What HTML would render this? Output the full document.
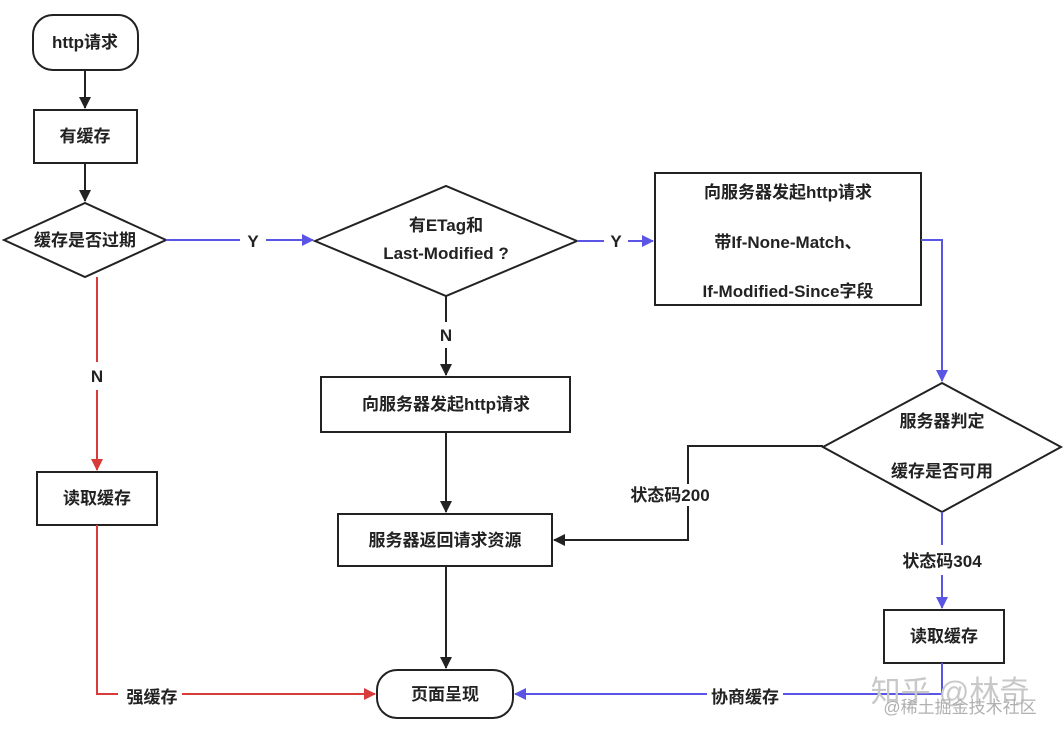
<!DOCTYPE html>
<html><head><meta charset="utf-8"><style>
body{margin:0;background:#fff;width:1064px;height:739px;overflow:hidden}
svg text{font-family:"Liberation Sans","Noto Sans CJK SC",sans-serif;font-weight:bold;font-size:17px;fill:#222}
</style></head><body>
<svg width="1064" height="739" viewBox="0 0 1064 739" xmlns="http://www.w3.org/2000/svg">
<defs>
<marker id="ak" markerWidth="12" markerHeight="12" refX="11" refY="6" orient="auto" markerUnits="userSpaceOnUse"><path d="M0,0 L12,6 L0,12 Z" fill="#222"/></marker>
<marker id="ab" markerWidth="12" markerHeight="12" refX="11" refY="6" orient="auto" markerUnits="userSpaceOnUse"><path d="M0,0 L12,6 L0,12 Z" fill="#5b55e6"/></marker>
<marker id="ar" markerWidth="12" markerHeight="12" refX="11" refY="6" orient="auto" markerUnits="userSpaceOnUse"><path d="M0,0 L12,6 L0,12 Z" fill="#d93a3a"/></marker>
</defs>
<g fill="#fff" stroke="#222" stroke-width="2">
<rect x="33" y="15" width="105" height="55" rx="20"/>
<rect x="34" y="110" width="103" height="53"/>
<polygon points="4,240 85,203 166,240 85,277"/>
<polygon points="315,241 446,186 577,241 446,296"/>
<rect x="655" y="173" width="266" height="132"/>
<polygon points="823,447 942,383 1061,447 942,512"/>
<rect x="321" y="377" width="249" height="55"/>
<rect x="338" y="514" width="214" height="52"/>
<rect x="377" y="670" width="136" height="48" rx="20"/>
<rect x="37" y="472" width="120" height="53"/>
<rect x="884" y="610" width="120" height="53"/>
</g>
<g fill="none" stroke-width="2">
<path d="M85,70 V108" stroke="#222" marker-end="url(#ak)"/>
<path d="M85,163 V201" stroke="#222" marker-end="url(#ak)"/>
<path d="M166,240 H240 M266,240 H313" stroke="#5b55e6" marker-end="url(#ab)"/>
<path d="M577,241 H604 M628,241 H653" stroke="#5b55e6" marker-end="url(#ab)"/>
<path d="M921,240 H942 V381" stroke="#5b55e6" marker-end="url(#ab)"/>
<path d="M446,296 V322 M446,348 V375" stroke="#222" marker-end="url(#ak)"/>
<path d="M446,432 V512" stroke="#222" marker-end="url(#ak)"/>
<path d="M446,566 V668" stroke="#222" marker-end="url(#ak)"/>
<path d="M823,446 H688 V540 H554" stroke="#222" marker-end="url(#ak)"/>
<path d="M942,512 V545 M942,575 V608" stroke="#5b55e6" marker-end="url(#ab)"/>
<path d="M942,663 V694 H515" stroke="#5b55e6" marker-end="url(#ab)"/>
<path d="M97,277 V362 M97,390 V470" stroke="#d93a3a" marker-end="url(#ar)"/>
<path d="M97,525 V694 H375" stroke="#d93a3a" marker-end="url(#ar)"/>
</g>
<g fill="#fff">
<rect x="628" y="484" width="84" height="22"/>
<rect x="118" y="685" width="64" height="22"/>
<rect x="707" y="685" width="76" height="22"/>
</g>
<g text-anchor="middle">
<text x="85" y="48">http请求</text>
<text x="85" y="142">有缓存</text>
<text x="85" y="246">缓存是否过期</text>
<text x="253" y="247">Y</text>
<text x="446" y="231">有ETag和</text>
<text x="446" y="259">Last-Modified ?</text>
<text x="616" y="247">Y</text>
<text x="788" y="198">向服务器发起http请求</text>
<text x="788" y="248">带If-None-Match、</text>
<text x="788" y="297">If-Modified-Since字段</text>
<text x="446" y="341">N</text>
<text x="446" y="410">向服务器发起http请求</text>
<text x="942" y="427">服务器判定</text>
<text x="942" y="477">缓存是否可用</text>
<text x="670" y="501">状态码200</text>
<text x="445" y="546">服务器返回请求资源</text>
<text x="942" y="567">状态码304</text>
<text x="944" y="642">读取缓存</text>
<text x="97" y="382">N</text>
<text x="97" y="504">读取缓存</text>
<text x="152" y="703">强缓存</text>
<text x="445" y="700">页面呈现</text>
<text x="745" y="703">协商缓存</text>
<text x="950" y="702" style="font-size:30px;fill:#c8c8c8;font-weight:normal">知乎 @林奇</text>
<text x="960" y="713" style="font-size:17px;fill:#b0b0b0;font-weight:normal">@稀土掘金技术社区</text>
</g>
</svg>
</body></html>
